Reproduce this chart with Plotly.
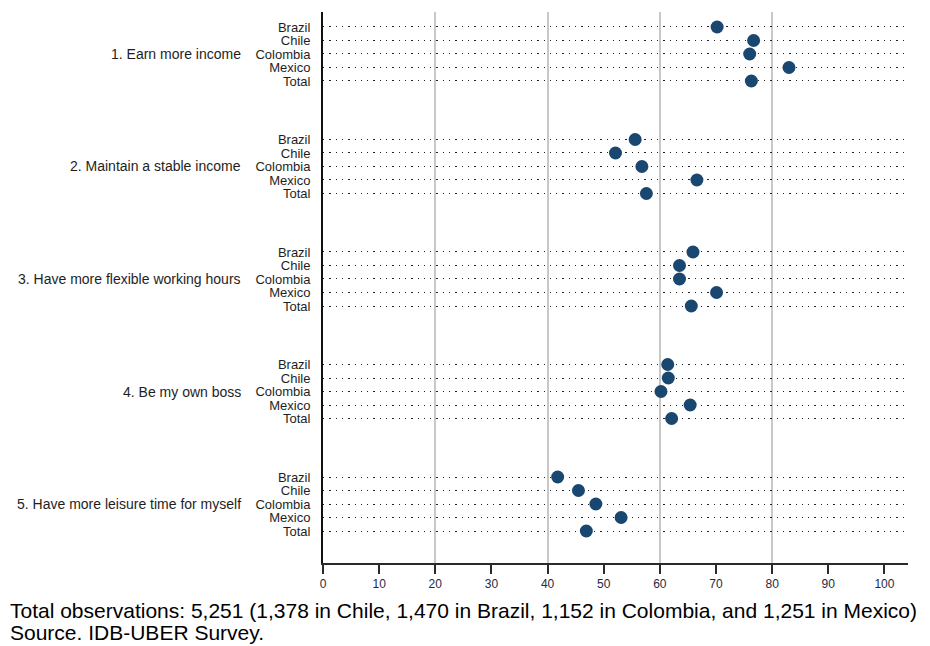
import plotly.graph_objects as go

reasons = [
    "1. Earn more income",
    "2. Maintain a stable income",
    "3. Have more flexible working hours",
    "4. Be my own boss",
    "5. Have more leisure time for myself",
]
countries = ["Brazil", "Chile", "Colombia", "Mexico", "Total"]

earn_more_income = [70.2, 76.7, 76.0, 83.0, 76.3]
stable_income = [55.6, 52.1, 56.8, 66.6, 57.6]
flexible_hours = [65.9, 63.5, 63.5, 70.1, 65.6]
own_boss = [61.4, 61.5, 60.2, 65.4, 62.1]
leisure_time = [41.8, 45.5, 48.6, 53.1, 46.9]

x_ticks = [0, 10, 20, 30, 40, 50, 60, 70, 80, 90, 100]
x_grid = [20, 40, 60, 80]

note1 = "Total observations: 5,251 (1,378 in Chile, 1,470 in Brazil, 1,152 in Colombia, and 1,251 in Mexico)"
note2 = "Source. IDB-UBER Survey."

series = [earn_more_income, stable_income, flexible_hours, own_boss, leisure_time]

GROUP_STEP = 8.333
FONT = "Liberation Sans, Arial, sans-serif"

xs, ys, tickvals, ticktext = [], [], [], []
for g, vals in enumerate(series):
    for r, (c, v) in enumerate(zip(countries, vals)):
        pos = g * GROUP_STEP + r
        xs.append(v)
        ys.append(pos)
        tickvals.append(pos)
        ticktext.append(c)

fig = go.Figure()
fig.add_trace(go.Scatter(
    x=xs, y=ys, mode="markers",
    marker=dict(symbol="circle", size=13, color="#1a476f",
                line=dict(width=0)),
    showlegend=False, hoverinfo="x+y",
))

annotations = []
for g, name in enumerate(reasons):
    annotations.append(dict(
        text=name, x=0, xref="paper", xanchor="right", xshift=-80,
        y=g * GROUP_STEP + 2, yref="y", yanchor="middle",
        showarrow=False, font=dict(family=FONT, size=14, color="#1e1e1e"),
    ))
annotations.append(dict(
    text=note1, x=0, xref="paper", xanchor="left", xshift=-315,
    y=0, yref="paper", yanchor="middle", yshift=-47,
    showarrow=False, font=dict(family=FONT, size=21, color="#000000"),
))
annotations.append(dict(
    text=note2, x=0, xref="paper", xanchor="left", xshift=-315,
    y=0, yref="paper", yanchor="middle", yshift=-69,
    showarrow=False, font=dict(family=FONT, size=21, color="#000000"),
))

top = -1.11
bottom = 4 * GROUP_STEP + 4 + 2.37

fig.update_layout(
    width=922, height=638,
    margin=dict(l=315, r=22, t=4, b=83),
    paper_bgcolor="white", plot_bgcolor="white",
    font=dict(family=FONT, size=12, color="#1e1e1e"),
    annotations=annotations,
    xaxis=dict(
        range=[0, 104.2], tickvals=x_ticks, ticktext=[str(t) for t in x_ticks],
        showgrid=False, zeroline=False,
        showline=True, linecolor="#2a2a2a", linewidth=2,
        ticks="outside", ticklen=9, tickwidth=1.5, tickcolor="#2a2a2a",
        tickfont=dict(family=FONT, size=12, color="#1e2a44"),
        minor=dict(tickvals=x_grid, showgrid=True, gridcolor="#c8c8c8",
                   gridwidth=1.5, ticks=""),
    ),
    yaxis=dict(
        range=[bottom, top], tickvals=tickvals, ticktext=ticktext,
        showgrid=True, gridcolor="#222222", gridwidth=1.3, griddash="1.3px,5px",
        zeroline=False,
        showline=True, linecolor="#111111", linewidth=2,
        ticks="", ticklabelstandoff=8,
        tickfont=dict(family=FONT, size=13, color="#1e1e1e"),
    ),
)

fig.write_html("out.html")
